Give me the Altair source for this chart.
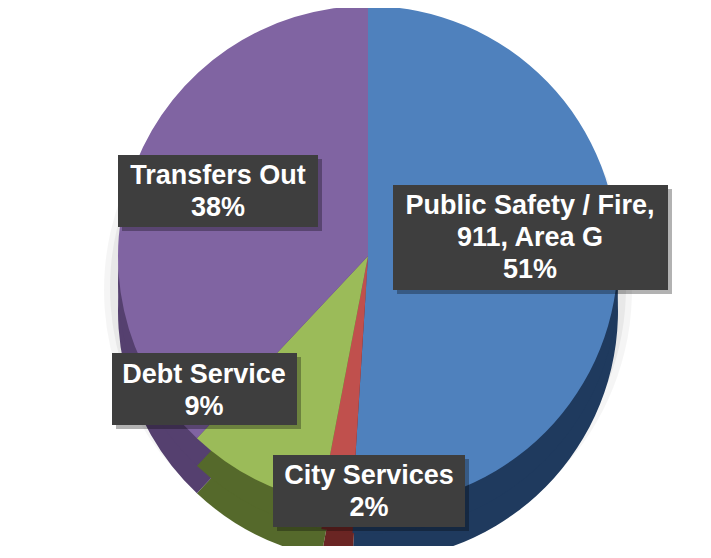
import textwrap
import altair as alt
import pandas as pd

# ---- data ----
categories = ["Public Safety / Fire, 911, Area G", "City Services", "Debt Service", "Transfers Out"]
shares = [51, 2, 9, 38]

# ---- styles ----
top_colors = ["#4F81BD", "#C0504D", "#9BBB59", "#8064A2"]
side_colors = ["#1F3A5E", "#6A2523", "#55692B", "#55406F"]

labels = ["\n".join(textwrap.wrap(c, 21) + [f"{v}%"]) for c, v in zip(categories, shares)]
df = pd.DataFrame({"category": categories, "share": shares,
                   "order": list(range(len(categories))), "label": labels})

R = 250
DEPTH = 55


def pie(colors, radius, y_off, opacity=1.0):
    return alt.Chart(df).mark_arc(radius=radius, yOffset=y_off, opacity=opacity).encode(
        theta=alt.Theta("share:Q", stack=True),
        color=alt.Color("category:N", scale=alt.Scale(domain=categories, range=colors), legend=None),
        order=alt.Order("order:Q"),
    )


def halo(radius, y_off, opacity):
    return alt.Chart(df).mark_arc(radius=radius, yOffset=y_off, color="#000000", opacity=opacity).encode(
        theta=alt.Theta("share:Q", stack=True),
        order=alt.Order("order:Q"),
    )


layers = [
    halo(R + 14, 34, 0.04),
    halo(R + 8, 32, 0.05),
    pie(side_colors, R, DEPTH),
    pie(side_colors, R, DEPTH / 2),
    pie(top_colors, R, 0),
]

# annotation boxes (view pixels): x0, x1, y0, y1, text centre x, first-line y
boxes = {
    "Public Safety / Fire, 911, Area G": (360, 635, 177, 282, 497, 198),
    "City Services": (240, 432, 447, 519, 336, 468),
    "Debt Service": (79, 264, 345, 417, 171, 367),
    "Transfers Out": (85, 285, 147, 219, 185, 168),
}

for cat, (x0, x1, y0, y1, tx, ty) in boxes.items():
    base = alt.Chart(df).transform_filter(alt.datum.category == cat)
    layers.append(base.mark_rect(color="#000000", opacity=0.3).encode(
        x=alt.value(x0 + 4), x2=alt.value(x1 + 4), y=alt.value(y0 + 4), y2=alt.value(y1 + 4)))
    layers.append(base.mark_rect(color="#3E3E3E").encode(
        x=alt.value(x0), x2=alt.value(x1), y=alt.value(y0), y2=alt.value(y1)))
    layers.append(base.mark_text(
        font="Liberation Sans", fontWeight="bold", fontSize=27, color="white",
        lineBreak="\n", lineHeight=32, align="center", baseline="middle",
    ).encode(x=alt.value(tx), y=alt.value(ty), text="label:N"))

chart = alt.layer(*layers).resolve_scale(color="independent").properties(
    width=670, height=496,
    padding={"left": 25, "top": 0, "right": 0, "bottom": 42},
    autosize=alt.AutoSizeParams(type="none"),
).configure_view(stroke=None)

chart.save("out.html", embed_options={"renderer": "svg", "actions": False})
